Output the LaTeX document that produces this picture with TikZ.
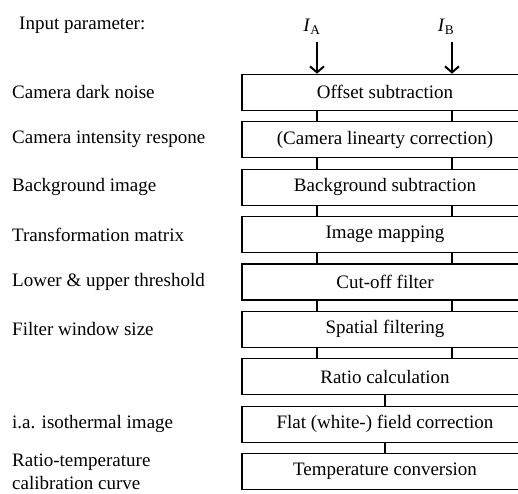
\documentclass[tikz,border=0pt]{standalone}
\usepackage{fontspec}
\setmainfont{Liberation Serif}
\usetikzlibrary{arrows.meta, positioning}

\begin{document}
\begin{tikzpicture}[
  x=1pt, y=-1pt,
  node distance=10.2pt,
  stage/.style={draw, line width=1.2pt, minimum width=286pt,
                minimum height=36pt, inner sep=0pt,
                font=\fontsize{19}{22}\selectfont},
  param/.style={anchor=west, align=left, inner sep=0pt,
                font=\fontsize{19}{23}\selectfont},
  link/.style={line width=1.3pt},
  arr/.style={-{Straight Barb[length=6pt, width=14pt]}, line width=2pt},
]
\useasboundingbox (0,0) rectangle (518,493);
\clip (0,0) rectangle (518,493);

%% --- Processing chain ---
\node[stage] (offs) at (385,92.3) {Offset subtraction};
\node[stage, below=of offs] (lin)  {(Camera linearty correction)};
\node[stage, below=of lin]  (bgs)  {Background subtraction};
\node[stage, below=of bgs]  (map)  {Image mapping};
\node[stage, below=of map]  (cut)  {Cut-off filter};
\node[stage, below=of cut]  (spat) {Spatial filtering};
\node[stage, below=of spat] (ratio) {Ratio calculation};
\node[stage, below=of ratio] (flat) {Flat (white-) field correction};
\node[stage, below=of flat] (temp) {Temperature conversion};

%% --- Inputs ---
\node[param] (inp) at (19,25) {Input parameter:};
\node[inner sep=0pt, font=\fontsize{19}{22}\selectfont] (ia) at (312,27) {\textit{I}\textsubscript{A}};
\node[inner sep=0pt, font=\fontsize{19}{22}\selectfont] (ib) at (446,27) {\textit{I}\textsubscript{B}};
\coordinate (xa) at (317,42);
\coordinate (xb) at (452,42);

\draw[arr] (xa) -- (offs.north -| xa);
\draw[arr] (xb) -- (offs.north -| xb);

%% --- Links between stages ---
\draw[link] (offs.south -| xa) -- (lin.north -| xa);
\draw[link] (offs.south -| xb) -- (lin.north -| xb);
\draw[link] (lin.south -| xa)  -- (bgs.north -| xa);
\draw[link] (lin.south -| xb)  -- (bgs.north -| xb);
\draw[link] (bgs.south -| xa)  -- (map.north -| xa);
\draw[link] (bgs.south -| xb)  -- (map.north -| xb);
\draw[link] (map.south -| xa)  -- (cut.north -| xa);
\draw[link] (map.south -| xb)  -- (cut.north -| xb);
\draw[link] (cut.south -| xa)  -- (spat.north -| xa);
\draw[link] (cut.south -| xb)  -- (spat.north -| xb);
\draw[link] (spat.south -| xa) -- (ratio.north -| xa);
\draw[link] (spat.south -| xb) -- (ratio.north -| xb);
\draw[link] (ratio) -- (flat);
\draw[link] (flat) -- (temp);

%% --- Parameters on the left ---
\coordinate (lm) at (12,0);
\node[param] (pdark) at (offs -| lm) {Camera dark noise};
\node[param] (presp) at (lin -| lm)  {Camera intensity respone};
\node[param] (pbg)   at (bgs -| lm)  {Background image};
\node[param] (pmat)  at (map -| lm)  {Transformation matrix};
\node[param] (pthr)  at (cut -| lm)  {Lower \& upper threshold};
\node[param] (pwin)  at (spat -| lm) {Filter window size};
\node[param] (piso)  at (flat -| lm) {i.a. isothermal image};
\node[param] (pcal)  at (temp -| lm) {Ratio-temperature\\calibration curve};

\end{tikzpicture}
\end{document}
